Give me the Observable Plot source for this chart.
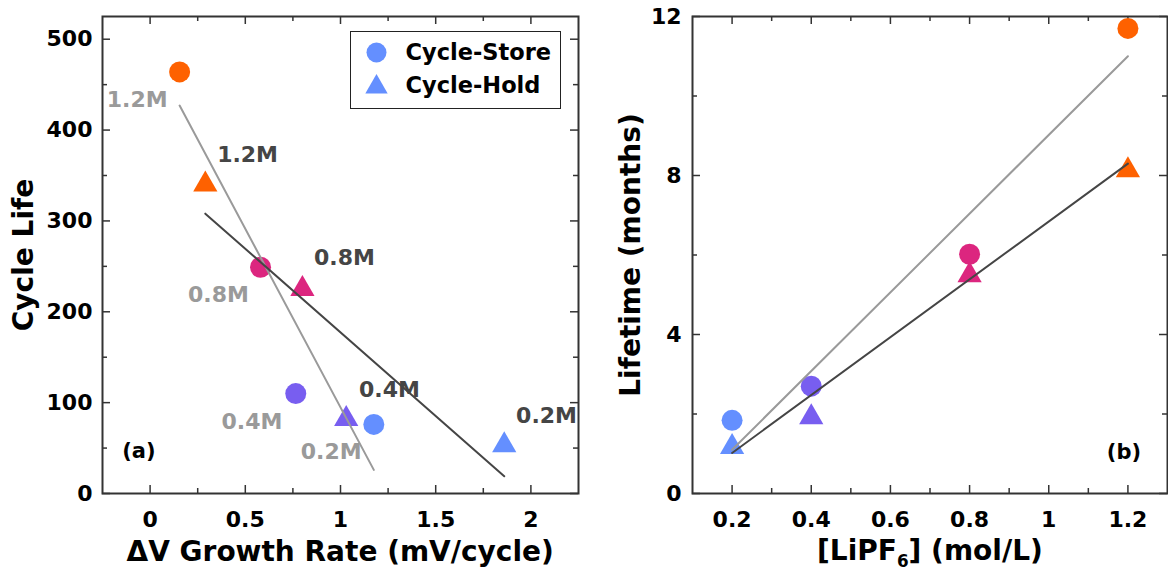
<!DOCTYPE html>
<html>
<head>
<meta charset="utf-8">
<script src="https://cdn.jsdelivr.net/npm/d3@7"></script>
<script src="https://cdn.jsdelivr.net/npm/@observablehq/plot@0.6"></script>
<style>
  html, body { margin: 0; padding: 0; background: #fff; overflow: hidden; }
  #wrap { position: relative; width: 1168px; height: 573px; font-family: "DejaVu Sans", sans-serif; font-weight: bold; }
  #panels { position: absolute; left: 0; top: 0; display: flex; }
  .title { position: absolute; font-size: 28px; line-height: 28px; white-space: nowrap; text-align: center; color: #000; }
  .ytitle { transform: rotate(-90deg); }
  #legend { position: absolute; box-sizing: border-box; border: 1.5px solid #222; background: #fff; }
  .legtext { position: absolute; font-size: 22.5px; line-height: 24px; white-space: nowrap; color: #000; }
</style>
</head>
<body>
<div id="wrap">
  <div id="panels"></div>
</div>
<script>
// ---------------- data ----------------
const concentrationLabels = ["0.2M", "0.4M", "0.8M", "1.2M"];
const concentrationMolar = [0.2, 0.4, 0.8, 1.2];
const markerColors = ["#648fff", "#785ef0", "#dc267f", "#fe6100"];
const seriesNames = ["Cycle-Store", "Cycle-Hold"];

// Panel (a): cycle life vs dV growth rate
const storeGrowthRate = [1.175, 0.765, 0.58, 0.155];
const storeCycleLife = [76, 110, 249, 464];
const holdGrowthRate = [1.86, 1.03, 0.80, 0.29];
const holdCycleLife = [53, 82, 225, 340];
const storeFitGrowthRate = [0.155, 1.175];
const storeFitCycleLife = [427, 26];
const holdFitGrowthRate = [0.29, 1.86];
const holdFitCycleLife = [308, 19];
// annotation anchors (data units)
const storeLabelGrowthRate = [0.951, 0.535, 0.359, -0.068];
const storeLabelCycleLife = [45.5, 79, 218, 433];
const holdLabelGrowthRate = [2.082, 1.257, 1.021, 0.512];
const holdLabelCycleLife = [85, 114, 259, 373];
const tagA = {text: "(a)", x: -0.059, y: 46.6};

// Panel (b): lifetime vs LiPF6 concentration
const storeLifetime = [1.84, 2.7, 6.02, 11.7];
const holdLifetime = [1.17, 1.92, 5.49, 8.13];
const fitConcentration = [0.2, 1.2];
const storeFitLifetime = [1.1, 11.0];
const holdFitLifetime = [1.02, 8.3];
const tagB = {text: "(b)", x: 1.19, y: 1.04};

// ticks
const aXTicks = [0, 0.5, 1, 1.5, 2];
const aXMinor = [0.25, 0.75, 1.25, 1.75];
const aYTicks = [0, 100, 200, 300, 400, 500];
const aYMinor = [50, 150, 250, 350, 450];
const bXTicks = [0.2, 0.4, 0.6, 0.8, 1, 1.2];
const bXMinor = [0.3, 0.5, 0.7, 0.9, 1.1];
const bYTicks = [0, 4, 8, 12];
const bYMinor = [2, 6, 10];

// ---------------- build tables ----------------
const rows = (xs, ys, names) => xs.map((x, i) => ({x, y: ys[i], c: names ? names[i] : undefined}));
const aStore = rows(storeGrowthRate, storeCycleLife, concentrationLabels);
const aHold = rows(holdGrowthRate, holdCycleLife, concentrationLabels);
const bStore = rows(concentrationMolar, storeLifetime, concentrationLabels);
const bHold = rows(concentrationMolar, holdLifetime, concentrationLabels);
const aStoreFit = rows(storeFitGrowthRate, storeFitCycleLife);
const aHoldFit = rows(holdFitGrowthRate, holdFitCycleLife);
const bStoreFit = rows(fitConcentration, storeFitLifetime);
const bHoldFit = rows(fitConcentration, holdFitLifetime);
const aStoreLabels = rows(storeLabelGrowthRate, storeLabelCycleLife, concentrationLabels);
const aHoldLabels = rows(holdLabelGrowthRate, holdLabelCycleLife, concentrationLabels);

const W = 584, H = 573, MT = 16, MB = 80;
const innerH = H - MT - MB;
const FRAME = "#333";
const LIGHT = "#9a9a9a", DARK = "#454545";
const fmt = d => String(d);

function frameTicks(xMajor, xMinor, yMajor, yMinor, innerW) {
  const s = {stroke: FRAME, strokeWidth: 1.5};
  return [
    Plot.tickX(xMajor, {x: d => d, insetTop: innerH - 8, ...s}),
    Plot.tickX(xMajor, {x: d => d, insetBottom: innerH - 8, ...s}),
    Plot.tickX(xMinor, {x: d => d, insetTop: innerH - 5, ...s}),
    Plot.tickX(xMinor, {x: d => d, insetBottom: innerH - 5, ...s}),
    Plot.tickY(yMajor, {y: d => d, insetRight: innerW - 8, ...s}),
    Plot.tickY(yMajor, {y: d => d, insetLeft: innerW - 8, ...s}),
    Plot.tickY(yMinor, {y: d => d, insetRight: innerW - 5, ...s}),
    Plot.tickY(yMinor, {y: d => d, insetLeft: innerW - 5, ...s})
  ];
}

const common = {
  width: W, height: H, marginTop: MT, marginBottom: MB,
  style: {fontFamily: "DejaVu Sans", fontWeight: "bold", fontSize: "22px", color: "#000", background: "#fff", overflow: "visible"},
  color: {domain: concentrationLabels, range: markerColors}
};
const axisText = {fontSize: 22, fontWeight: "bold", fill: "#000", label: null, tickSize: 0};

// Panel (a)
const aML = 102, aMR = 6;
const plotA = Plot.plot({
  ...common,
  marginLeft: aML, marginRight: aMR,
  x: {domain: [-0.25, 2.25]},
  y: {domain: [0, 525]},
  marks: [
    ...frameTicks(aXTicks, aXMinor, aYTicks, aYMinor, W - aML - aMR),
    Plot.axisX({...axisText, ticks: aXTicks, tickFormat: fmt, tickPadding: 18}),
    Plot.axisY({...axisText, ticks: aYTicks, tickFormat: fmt, tickPadding: 10}),
    Plot.dot(aStore, {x: "x", y: "y", fill: "c", r: 10.5, symbol: "circle"}),
    Plot.dot(aHold, {x: "x", y: "y", fill: "c", r: 9, symbol: "triangle"}),
    Plot.line(aStoreFit, {x: "x", y: "y", stroke: LIGHT, strokeWidth: 2}),
    Plot.line(aHoldFit, {x: "x", y: "y", stroke: DARK, strokeWidth: 2}),
    Plot.text(aStoreLabels, {x: "x", y: "y", text: "c", fill: LIGHT, fontSize: 22, fontWeight: "bold"}),
    Plot.text(aHoldLabels, {x: "x", y: "y", text: "c", fill: DARK, fontSize: 22, fontWeight: "bold"}),
    Plot.text([tagA], {x: "x", y: "y", text: "text", fill: "#000", fontSize: 21, fontWeight: "bold"}),
    Plot.frame({stroke: FRAME, strokeWidth: 2})
  ]
});

// Panel (b)
const bML = 108, bMR = 1;
const plotB = Plot.plot({
  ...common,
  marginLeft: bML, marginRight: bMR,
  x: {domain: [0.1, 1.3]},
  y: {domain: [0, 12]},
  marks: [
    ...frameTicks(bXTicks, bXMinor, bYTicks, bYMinor, W - bML - bMR),
    Plot.axisX({...axisText, ticks: bXTicks, tickFormat: fmt, tickPadding: 18}),
    Plot.axisY({...axisText, ticks: bYTicks, tickFormat: fmt, tickPadding: 11}),
    Plot.dot(bStore, {x: "x", y: "y", fill: "c", r: 10.5, symbol: "circle"}),
    Plot.dot(bHold, {x: "x", y: "y", fill: "c", r: 9, symbol: "triangle"}),
    Plot.line(bStoreFit, {x: "x", y: "y", stroke: LIGHT, strokeWidth: 2}),
    Plot.line(bHoldFit, {x: "x", y: "y", stroke: DARK, strokeWidth: 2}),
    Plot.text([tagB], {x: "x", y: "y", text: "text", fill: "#000", fontSize: 21, fontWeight: "bold"}),
    Plot.frame({stroke: FRAME, strokeWidth: 2})
  ]
});

const panels = document.getElementById("panels");
panels.appendChild(plotA);
panels.appendChild(plotB);

// ---------------- titles ----------------
const wrap = document.getElementById("wrap");
function addTitle(html, cx, cy, rotate) {
  const d = document.createElement("div");
  d.className = "title" + (rotate ? " ytitle" : "");
  d.innerHTML = html;
  wrap.appendChild(d);
  const w = d.offsetWidth;
  d.style.left = (cx - w / 2) + "px";
  d.style.top = (cy - 14) + "px";
}
addTitle("ΔV Growth Rate (mV/cycle)", 340, 552, false);
addTitle('[LiPF<span style="font-size:0.6em;position:relative;top:0.4em">6</span>] (mol/L)', 930, 551, false);
addTitle("Cycle Life", 24, 254.5, true);
addTitle("Lifetime (months)", 630, 254.5, true);

// ---------------- legend (panel a) ----------------
const legend = document.createElement("div");
legend.id = "legend";
Object.assign(legend.style, {left: "350px", top: "31px", width: "211px", height: "78px"});
wrap.appendChild(legend);
const legSvg = d3.create("svg").attr("width", 211).attr("height", 78)
  .style("position", "absolute").style("left", "-1.5px").style("top", "-1.5px");
const legendSymbols = [d3.symbolCircle, d3.symbolTriangle];
const legendSizes = [Math.PI * 10 * 10, Math.PI * 8.3 * 8.3];
const legendRowY = [21.5, 56];
seriesNames.forEach((name, i) => {
  legSvg.append("path")
    .attr("transform", `translate(26.5,${legendRowY[i]})`)
    .attr("d", d3.symbol(legendSymbols[i], legendSizes[i])())
    .attr("fill", markerColors[0]);
  const t = document.createElement("div");
  t.className = "legtext";
  t.textContent = name;
  t.style.left = "54.5px";
  t.style.top = (legendRowY[i] - 12 - 1.5 + (i === 1 ? -2 : 0)) + "px";
  legend.appendChild(t);
});
legend.appendChild(legSvg.node());
</script>
</body>
</html>
